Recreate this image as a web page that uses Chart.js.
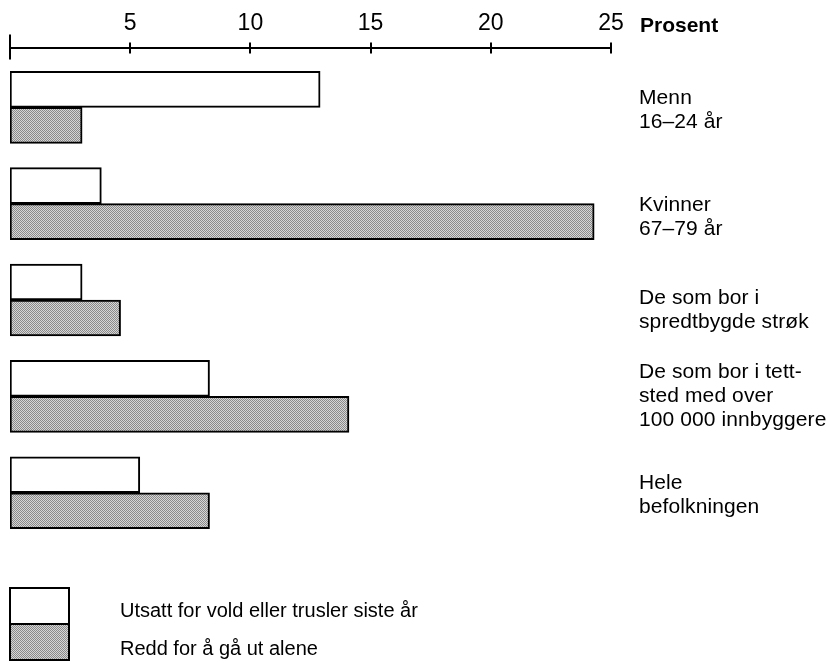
<!DOCTYPE html>
<html>
<head>
<meta charset="utf-8">
<script src="https://cdn.jsdelivr.net/npm/chart.js@4.4.1/dist/chart.umd.min.js"></script>
<style>
  body { margin: 0; background: #fff; }
  #wrap { width: 827px; height: 665px; }
</style>
</head>
<body>
<div id="wrap"><canvas id="myChart" width="827" height="665"></canvas></div>
<script>
// data (percent)
const categories = [
  ["Menn", "16–24 år"],
  ["Kvinner", "67–79 år"],
  ["De som bor i", "spredtbygde strøk"],
  ["De som bor i tett-", "sted med over", "100 000 innbyggere"],
  ["Hele", "befolkningen"],
];
const utsatt = [12.9, 3.8, 3.0, 8.3, 5.4];
const redd = [3.0, 24.3, 4.6, 14.1, 8.3];
const seriesNames = ["Utsatt for vold eller trusler siste år", "Redd for å gå ut alene"];
const xTicks = [0, 5, 10, 15, 20, 25];
const unit = "Prosent";

// label placement tweaks (px) so the text sits like the printed page
const labelNudge = [3, 14, 10, 0, 2];

const FONT = '"Liberation Sans", Arial, Helvetica, sans-serif';
Chart.defaults.font.family = FONT;
Chart.defaults.color = "#000";

// halftone-like grey fill
function makeGrey() {
  const c = document.createElement("canvas");
  c.width = 2;
  c.height = 2;
  const g = c.getContext("2d");
  g.fillStyle = "#d6d6d6";
  g.fillRect(0, 0, 2, 2);
  g.fillStyle = "#8a8a8a";
  g.fillRect(0, 0, 1, 1);
  g.fillRect(1, 1, 1, 1);
  return g.createPattern(c, "repeat");
}
const grey = makeGrey();

const extras = {
  id: "extras",
  afterDraw(chart) {
    const { ctx, chartArea } = chart;
    const xs = chart.scales.x;
    const ys = chart.scales.y;
    const axisY = chartArea.top;
    ctx.save();
    ctx.strokeStyle = "#000";
    ctx.lineWidth = 2;
    // tick marks crossing the axis line
    xTicks.forEach((v) => {
      const px = Math.round(xs.getPixelForValue(v));
      ctx.beginPath();
      if (v === 0) {
        ctx.moveTo(px, axisY - 13);
        ctx.lineTo(px, axisY + 12);
      } else {
        ctx.moveTo(px, axisY - 5);
        ctx.lineTo(px, axisY + 6);
      }
      ctx.stroke();
    });

    // unit label
    ctx.fillStyle = "#000";
    ctx.font = "bold 21px " + FONT;
    ctx.textBaseline = "alphabetic";
    ctx.textAlign = "left";
    ctx.fillText(unit, xs.getPixelForValue(25) + 29, 32);

    // category labels on the right
    ctx.font = "21px " + FONT;
    ctx.letterSpacing = "0.1px";
    ctx.textBaseline = "middle";
    const lh = 24;
    categories.forEach((lines, i) => {
      const cy = ys.getPixelForValue(i) + labelNudge[i];
      const y0 = cy - ((lines.length - 1) * lh) / 2;
      lines.forEach((t, j) => ctx.fillText(t, 639, y0 + j * lh));
    });

    // legend: two stacked boxes
    ctx.font = "20px " + FONT;
    ctx.letterSpacing = "0px";
    const lx = xs.getPixelForValue(0);
    const fills = chart.data.datasets.map((d) => d.backgroundColor);
    [588, 624].forEach((top, k) => {
      ctx.fillStyle = fills[k];
      ctx.fillRect(lx, top, 59, 36);
      ctx.strokeRect(lx, top, 59, 36);
      ctx.fillStyle = "#000";
      ctx.fillText(seriesNames[k], 120, top + 23 + k * 2);
    });
    ctx.restore();
  },
};

const ctx = document.getElementById("myChart").getContext("2d");
const myChart = new Chart(ctx, {
  type: "bar",
  data: {
    datasets: [
      {
        label: seriesNames[0],
        data: utsatt.map((v, i) => ({ x: v, y: i })),
        backgroundColor: "#ffffff",
        borderColor: "#000",
        borderWidth: 2,
        borderSkipped: false,
        barThickness: 36,
      },
      {
        label: seriesNames[1],
        data: redd.map((v, i) => ({ x: v, y: i })),
        backgroundColor: grey,
        borderColor: "#000",
        borderWidth: 2,
        borderSkipped: false,
        barThickness: 36,
      },
    ],
  },
  options: {
    indexAxis: "y",
    responsive: false,
    animation: false,
    layout: { padding: { left: 10, right: 216, top: 0, bottom: 100 } },
    plugins: {
      legend: { display: false },
      tooltip: { enabled: false },
    },
    scales: {
      x: {
        type: "linear",
        position: "top",
        min: 0,
        max: 25,
        afterBuildTicks: (s) => {
          s.ticks = xTicks.map((v) => ({ value: v }));
        },
        ticks: {
          padding: 10,
          font: { size: 23 },
          color: "#000",
          maxRotation: 0,
          callback: (v) => (v === 0 ? "" : v),
        },
        grid: { display: false, drawTicks: false },
        border: { display: true, color: "#000", width: 2 },
      },
      y: {
        type: "linear",
        display: false,
        offset: false,
        grace: 0,
        reverse: true,
        min: -0.62,
        max: 4.75,
      },
    },
  },
  plugins: [extras],
});
</script>
</body>
</html>
